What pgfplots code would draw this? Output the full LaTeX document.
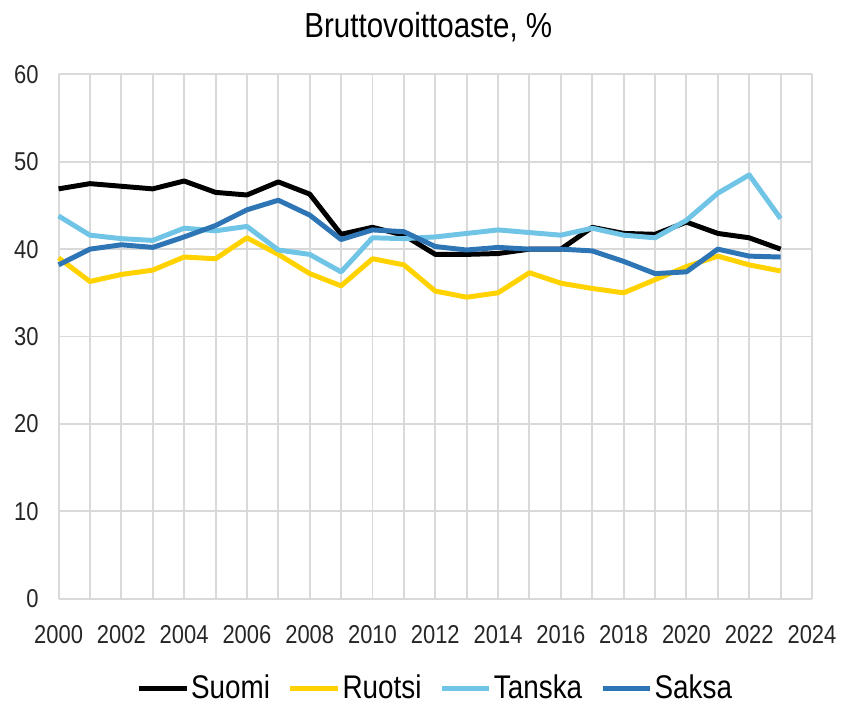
\documentclass[border=0pt]{standalone}
\usepackage{fontspec}
\setmainfont{Liberation Sans}[FakeStretch=0.85]
\usepackage{pgfplots}
\pgfplotsset{compat=1.18}
\definecolor{cSuomi}{RGB}{0,0,0}
\definecolor{cRuotsi}{RGB}{255,210,0}
\definecolor{cTanska}{RGB}{112,196,230}
\definecolor{cSaksa}{RGB}{46,117,182}
\definecolor{gridc}{RGB}{217,217,217}
\begin{document}
\begin{tikzpicture}
\begin{axis}[
  scale only axis,
  width=379.5pt, height=264pt,
  xmin=2000, xmax=2024, ymin=0, ymax=60,
  xtick={2000,2002,...,2024},
  minor xtick={2001,2003,...,2023},
  ytick={0,10,...,60},
  grid=both,
  major grid style={gridc, line width=1pt},
  minor grid style={gridc, line width=1pt},
  axis line style={draw=none},
  major tick length=0pt, minor tick length=0pt,
  /pgf/number format/1000 sep={},
  /pgf/number format/assume math mode=true,
  ticklabel style={font=\fontsize{13}{15}\selectfont, text=black!85},
  yticklabel style={xshift=-6.5pt},
  xticklabel style={yshift=-10pt},
  legend columns=4,
  legend style={draw=none, fill=none, at={(0.5,-0.171)}, anchor=center,
    font=\fontsize{16.5}{18}\selectfont,
    /tikz/every even column/.append style={column sep=8pt},
    inner sep=0pt, nodes={inner sep=1pt}},
  legend cell align=left,
  legend image code/.code={\draw[#1, line width=2.5pt] (0pt,0pt) -- (24pt,0pt);},
  every axis plot/.append style={line width=2.5pt, line join=round},
  clip=false,
]
\addplot[cSuomi] coordinates {
(2000,46.9) (2001,47.5) (2002,47.2) (2003,46.9) (2004,47.8) (2005,46.5)
(2006,46.2) (2007,47.7) (2008,46.3) (2009,41.7) (2010,42.5) (2011,41.6)
(2012,39.4) (2013,39.4) (2014,39.5) (2015,40.0) (2016,40.0) (2017,42.5)
(2018,41.8) (2019,41.7) (2020,43.1) (2021,41.8) (2022,41.3) (2023,40.0)};
\addlegendentry{Suomi}
\addplot[cRuotsi] coordinates {
(2000,39.0) (2001,36.3) (2002,37.1) (2003,37.6) (2004,39.1) (2005,38.9)
(2006,41.3) (2007,39.4) (2008,37.2) (2009,35.8) (2010,38.9) (2011,38.2)
(2012,35.2) (2013,34.5) (2014,35.0) (2015,37.3) (2016,36.1) (2017,35.5)
(2018,35.0) (2019,36.5) (2020,38.0) (2021,39.2) (2022,38.2) (2023,37.5)};
\addlegendentry{Ruotsi}
\addplot[cTanska] coordinates {
(2000,43.8) (2001,41.6) (2002,41.2) (2003,41.0) (2004,42.4) (2005,42.1)
(2006,42.6) (2007,39.9) (2008,39.4) (2009,37.4) (2010,41.3) (2011,41.2)
(2012,41.4) (2013,41.8) (2014,42.2) (2015,41.9) (2016,41.6) (2017,42.4)
(2018,41.6) (2019,41.3) (2020,43.3) (2021,46.4) (2022,48.5) (2023,43.5)};
\addlegendentry{Tanska}
\addplot[cSaksa] coordinates {
(2000,38.2) (2001,40.0) (2002,40.5) (2003,40.2) (2004,41.4) (2005,42.7)
(2006,44.5) (2007,45.6) (2008,43.9) (2009,41.1) (2010,42.2) (2011,42.0)
(2012,40.3) (2013,39.9) (2014,40.2) (2015,40.0) (2016,40.0) (2017,39.8)
(2018,38.6) (2019,37.2) (2020,37.4) (2021,40.0) (2022,39.2) (2023,39.1)};
\addlegendentry{Saksa}
\end{axis}
\node[font=\fontsize{17.5}{20}\selectfont, anchor=center] at ([xshift=-3.5pt,yshift=24pt]current axis.north) {Bruttovoittoaste, \%};
\path ([xshift=-29.5pt,yshift=-49pt]current axis.south west) rectangle ([xshift=12.5pt,yshift=37.5pt]current axis.north east);
\end{tikzpicture}
\end{document}
